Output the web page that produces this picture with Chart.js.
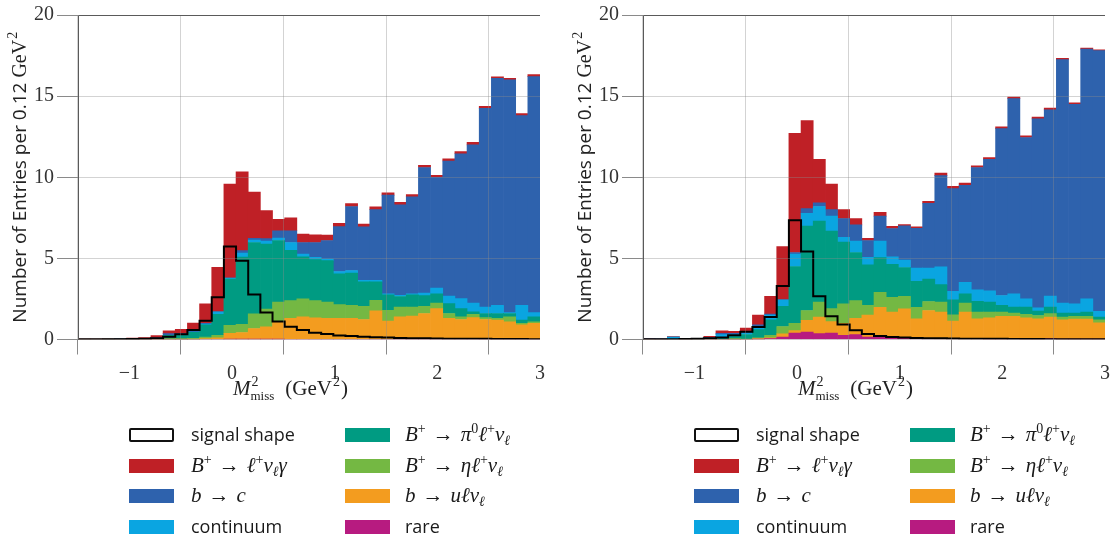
<!DOCTYPE html>
<html>
<head>
<meta charset="utf-8">
<script src="https://cdn.jsdelivr.net/npm/chart.js@4.4.0/dist/chart.umd.min.js"></script>
<style>
  html, body { margin: 0; padding: 0; background: #fff; }
  body { width: 1112px; height: 544px; position: relative; overflow: hidden; }
  canvas { position: absolute; top: 0; }
  .legend { position: absolute; top: 0; width: 556px; height: 544px; }
  .box { position: absolute; width: 45px; height: 14px; }
  .box.sig { box-sizing: border-box; border: 2px solid #111; border-radius: 2px; background: #fff; }
  .lab { position: absolute; white-space: nowrap; color: #1a1a1a; line-height: 20px; height: 20px; }
  .sans { font-family: "Open Sans", sans-serif; font-size: 18px; }
  .m { font-family: "Liberation Serif", serif; font-size: 21px; }
  .m i { font-style: italic; }
  .m .ar { margin: 0 7px; }
  .m sup, .m sub { font-size: 14px; line-height: 0; position: relative; vertical-align: baseline; }
  .m sup { top: -8px; }
  .m sub { top: 4px; }
</style>
</head>
<body>
<canvas id="cL" width="556" height="400" style="left:0px"></canvas>
<canvas id="cR" width="556" height="400" style="left:565px"></canvas>
<div id="legL" class="legend" style="left:0px"></div>
<div id="legR" class="legend" style="left:565px"></div>
<script>
// ---------------- data ----------------
const binLow = -1.5;
const binHigh = 3.0;
const nBins = 38;
const xTickValues = [-1, 0, 1, 2, 3];
const yTickValues = [0, 5, 10, 15, 20];

const componentNames = ['B+ → ℓ+νℓγ', 'b → c', 'continuum', 'B+ → π0ℓ+νℓ', 'B+ → ηℓ+νℓ', 'b → uℓνℓ', 'rare'];

// Left panel
const leftLNuGamma = [0.02,0.03,0.03,0.04,0.05,0.07,0.14,0.18,0.25,0.5,1.2,2.75,5.8,4.86,2.85,1.72,0.7,0.8,0.51,0.47,0.33,0.2,0.18,0.17,0.18,0.14,0.15,0.13,0.13,0.12,0.14,0.13,0.15,0.12,0.09,0.1,0.12,0.13];
const leftBtoC = [0,0,0,0.01,0.02,0.02,0.04,0.1,0.05,0.05,0.05,0,0,0.15,0.1,0.16,0.45,0.72,0.71,0.91,1.14,2.77,3.95,3.31,4.36,6.08,5.58,5.98,7.74,6.83,8.32,8.93,9.75,12.25,14.0,14.34,11.7,14.54];
const leftContinuum = [0,0,0,0,0,0,0,0,0.02,0.02,0.05,0.15,0.05,0.25,0.15,0.18,0.15,0.48,0.17,0.15,0.1,0.15,0.15,0.09,0.09,0.07,0.07,0.07,0.16,0.35,0.47,0.62,0.55,0.4,0.5,0.06,0.91,0.26];
const leftPi0 = [0,0,0.01,0.02,0.02,0.03,0.06,0.22,0.26,0.38,0.75,1.3,2.85,4.15,4.4,4.0,3.8,3.1,2.6,2.52,2.56,1.89,2.0,1.5,1.13,0.95,0.65,0.75,0.65,0.57,0.61,0.5,0.15,0.25,0.3,0.2,0.19,0.31];
const leftEta = [0,0,0,0,0,0,0,0.02,0.02,0.04,0.1,0.15,0.5,0.5,0.9,1.1,1.2,1.1,1.1,1.06,1.0,0.85,0.8,0.82,0.66,0.67,0.6,0.56,0.45,0.35,0.3,0.17,0.2,0.12,0.11,0.31,0.1,0.09];
const leftBtoULNu = [0,0,0,0,0,0,0,0.02,0.02,0.02,0.05,0.1,0.36,0.41,0.66,0.76,1.08,1.3,1.4,1.34,1.3,1.3,1.3,1.23,1.76,1.13,1.4,1.44,1.6,1.9,1.3,1.23,1.35,1.23,1.19,1.09,0.9,1.0];
const leftRare = [0,0,0,0,0,0,0,0,0,0,0,0,0.02,0.02,0.02,0.02,0.02,0,0,0,0,0,0,0,0,0,0,0,0,0,0,0,0,0,0,0,0,0];
const leftSignal = [0.02,0.02,0.02,0.02,0.03,0.05,0.08,0.17,0.32,0.58,1.15,2.6,5.73,4.86,2.78,1.66,1.11,0.78,0.58,0.42,0.34,0.25,0.21,0.17,0.14,0.12,0.1,0.08,0.07,0.06,0.05,0.05,0.04,0.04,0.03,0.03,0.03,0.02];

// Right panel
const rightLNuGamma = [0.02,0.02,0.03,0.02,0.03,0.08,0.15,0.12,0.2,0.6,1.1,3.29,7.34,5.43,2.68,1.58,0.55,0.4,0.14,0.24,0.14,0.09,0.1,0.12,0.15,0.14,0.14,0.1,0.11,0.1,0.09,0.1,0.11,0.11,0.08,0.08,0.06,0.06];
const rightBtoC = [0,0,0,0,0.01,0.03,0.08,0.06,0.1,0.1,0.05,0,0.1,0.3,0.22,0.4,1.16,1.0,1.04,1.53,1.75,2.11,2.45,4.0,5.62,6.33,5.98,7.54,8.1,10.29,12.04,9.95,11.65,11.48,15.01,12.3,15.4,16.07];
const rightContinuum = [0.03,0.02,0.15,0.02,0.01,0.06,0.2,0.1,0.1,0.2,0.3,0.39,0.76,0.78,0.9,0.92,0.3,0.7,0.46,1.02,0.45,0.45,0.82,0.67,1.1,0.53,0.71,0.7,0.7,0.61,0.81,0.5,0.2,0.67,0.61,0.57,0.81,0.35];
const rightPi0 = [0,0,0,0,0.01,0.03,0.1,0.18,0.28,0.5,0.95,1.25,3.5,5.2,5.0,4.78,3.8,2.96,2.5,2.14,2.04,1.78,1.59,1.39,1.08,0.92,0.57,0.67,0.61,0.41,0.37,0.45,0.27,0.41,0.25,0.2,0.26,0.16];
const rightEta = [0,0,0,0,0,0,0,0.02,0.03,0.05,0.15,0.45,0.45,0.61,0.92,0.8,1.2,1.1,0.6,0.92,0.91,0.77,0.71,0.55,0.61,0.38,0.55,0.41,0.35,0.26,0.2,0.21,0.2,0.21,0.16,0.17,0.17,0.2];
const rightBtoULNu = [0,0,0,0,0,0,0,0.02,0,0.04,0.06,0.2,0.15,0.73,1.02,0.7,0.75,1.0,1.35,1.84,1.59,1.81,1.22,1.74,1.65,1.11,1.66,1.25,1.32,1.41,1.38,1.32,1.26,1.33,1.2,1.24,1.24,1.0];
const rightRare = [0,0,0,0,0,0,0,0,0,0.02,0.05,0.15,0.4,0.45,0.36,0.4,0.25,0.3,0.15,0.15,0.1,0.08,0.06,0.05,0.04,0.03,0.03,0.03,0.02,0.02,0.05,0.02,0.02,0.05,0.02,0.02,0.02,0.02];
const rightSignal = [0.02,0.02,0.02,0.03,0.05,0.07,0.12,0.26,0.47,0.77,1.38,3.29,7.35,5.42,2.66,1.43,0.92,0.57,0.34,0.22,0.15,0.12,0.1,0.08,0.07,0.06,0.05,0.05,0.04,0.04,0.03,0.03,0.03,0.02,0.02,0.02,0.02,0.02];

// ---------------- styles ----------------
const componentColors = ['#bf2026', '#2e62ad', '#0aa5e1', '#009b82', '#74b843', '#f39c1f', '#b71b80'];
const serif = '"Liberation Serif", "DejaVu Serif", serif';
const sans = '"Open Sans", "DejaVu Sans", sans-serif';

const binWidth = (binHigh - binLow) / nBins;
const binCenters = Array.from({length: nBins}, (_, i) => binLow + (i + 0.5) * binWidth);
const binEdges = Array.from({length: nBins + 1}, (_, i) => binLow + i * binWidth);

function fmtTick(v) { return v < 0 ? '\u2212' + Math.abs(v) : String(v); }

const framePlugin = {
  id: 'frame',
  afterDraw(chart) {
    const {ctx, chartArea: a} = chart;
    ctx.save();
    ctx.strokeStyle = '#5a5a5a';
    ctx.lineWidth = 1;
    ctx.beginPath();
    ctx.moveTo(Math.floor(a.left) + 0.5, a.bottom);
    ctx.lineTo(Math.floor(a.left) + 0.5, Math.floor(a.top) + 0.5);
    ctx.lineTo(a.right, Math.floor(a.top) + 0.5);
    ctx.stroke();
    ctx.restore();
  }
};

const titlesPlugin = {
  id: 'axisTitles',
  afterDraw(chart) {
    const {ctx, chartArea: a} = chart;
    ctx.save();
    ctx.fillStyle = '#222';
    ctx.textBaseline = 'alphabetic';
    ctx.textAlign = 'left';
    // x title: M^2_miss (GeV^2)
    let x = a.left + 155;
    const by = 395;
    ctx.font = 'italic 21px ' + serif;
    ctx.fillText('M', x, by);
    x += ctx.measureText('M').width + 1;
    ctx.font = '14px ' + serif;
    ctx.fillText('2', x, by - 9);
    const w2 = ctx.measureText('2').width;
    ctx.font = '13px ' + serif;
    ctx.fillText('miss', x - 1, by + 5);
    const wm = ctx.measureText('miss').width;
    x += Math.max(w2, wm) + 10;
    ctx.font = '21px ' + serif;
    ctx.fillText('(GeV', x, by);
    x += ctx.measureText('(GeV').width + 1;
    ctx.font = '14px ' + serif;
    ctx.fillText('2', x, by - 9);
    x += ctx.measureText('2').width + 1;
    ctx.font = '21px ' + serif;
    ctx.fillText(')', x, by);

    // y title
    const p1 = 'Number of Entries per 0.12 ', p2 = 'GeV', p3 = '2';
    const f1 = '19px ' + sans, f2 = '20px ' + serif, f3 = '14px ' + serif;
    ctx.font = f1; const w1 = ctx.measureText(p1).width;
    ctx.font = f2; const wg = ctx.measureText(p2).width;
    ctx.font = f3; const ws = ctx.measureText(p3).width;
    const total = w1 + wg + ws + 1;
    ctx.translate(26, (a.top + a.bottom) / 2);
    ctx.rotate(-Math.PI / 2);
    let t = -total / 2;
    ctx.font = f1; ctx.fillText(p1, t, 0); t += w1;
    ctx.font = f2; ctx.fillText(p2, t, 0); t += wg + 1;
    ctx.font = f3; ctx.fillText(p3, t, -9);
    ctx.restore();
  }
};

function makeChart(canvasId, seriesList, signal) {
  // seriesList in legend order: lnugamma, btoc, continuum, pi0, eta, bulnu, rare
  const stackOrder = [6, 5, 4, 3, 2, 1, 0]; // bottom -> top
  const datasets = stackOrder.map(k => ({
    type: 'bar',
    label: componentNames[k],
    data: seriesList[k].map((v, i) => ({x: binCenters[i], y: v})),
    backgroundColor: componentColors[k],
    borderWidth: 0,
    barPercentage: 1,
    categoryPercentage: 1,
    grouped: false,
    xAxisID: 'x',
    yAxisID: 'y'
  }));
  const sigPts = signal.map((v, i) => ({x: binEdges[i], y: v}));
  sigPts.push({x: binEdges[nBins], y: signal[nBins - 1]});
  datasets.push({
    type: 'line',
    label: 'signal shape',
    data: sigPts,
    stepped: 'before',
    borderColor: '#000',
    borderWidth: 2,
    pointRadius: 0,
    fill: false,
    xAxisID: 'x',
    yAxisID: 'ys',
    order: -1
  });

  return new Chart(document.getElementById(canvasId), {
    type: 'bar',
    data: {datasets},
    options: {
      responsive: false,
      animation: false,
      devicePixelRatio: 1,
      layout: {padding: {top: 12, right: 16, left: 0, bottom: 0}},
      plugins: {legend: {display: false}, tooltip: {enabled: false}},
      scales: {
        x: {
          type: 'linear', min: binLow, max: binHigh, stacked: true, offset: false,
          afterBuildTicks: s => { s.ticks = xTickValues.map(v => ({value: v})); },
          afterFit: s => { s.height = 60.5; },
          grid: {color: 'rgba(140,140,140,0.38)', lineWidth: 1, tickColor: '#8a8a8a', tickLength: 15, z: 1},
          border: {display: false},
          ticks: {font: {family: serif, size: 20}, color: '#333', padding: 7, maxRotation: 0, autoSkip: false,
                  callback: v => fmtTick(v)}
        },
        y: {
          min: 0, max: 20, stacked: true,
          afterBuildTicks: s => { s.ticks = yTickValues.map(v => ({value: v})); },
          afterFit: s => { s.width = 78; },
          grid: {color: 'rgba(140,140,140,0.38)', lineWidth: 1, tickColor: '#8a8a8a', tickLength: 21, z: 1},
          border: {display: false},
          ticks: {font: {family: serif, size: 20}, color: '#333', padding: 3, callback: v => fmtTick(v)}
        },
        ys: {display: false, min: 0, max: 20}
      }
    },
    plugins: [framePlugin, titlesPlugin]
  });
}

makeChart('cL', [leftLNuGamma, leftBtoC, leftContinuum, leftPi0, leftEta, leftBtoULNu, leftRare], leftSignal);
makeChart('cR', [rightLNuGamma, rightBtoC, rightContinuum, rightPi0, rightEta, rightBtoULNu, rightRare], rightSignal);

// ---------------- legend (HTML) ----------------
const legendHTML = [
  {html: 'signal shape', cls: 'sans', sig: true},
  {html: '<i>B</i><sup>+</sup><span class="ar">→</span><i>ℓ</i><sup>+</sup><i>ν</i><sub><i>ℓ</i></sub><i>γ</i>', cls: 'm', color: 0},
  {html: '<i>b</i><span class="ar">→</span><i>c</i>', cls: 'm', color: 1},
  {html: 'continuum', cls: 'sans', color: 2},
  {html: '<i>B</i><sup>+</sup><span class="ar">→</span><i>π</i><sup>0</sup><i>ℓ</i><sup>+</sup><i>ν</i><sub><i>ℓ</i></sub>', cls: 'm', color: 3},
  {html: '<i>B</i><sup>+</sup><span class="ar">→</span><i>η</i><i>ℓ</i><sup>+</sup><i>ν</i><sub><i>ℓ</i></sub>', cls: 'm', color: 4},
  {html: '<i>b</i><span class="ar">→</span><i>u</i><i>ℓ</i><i>ν</i><sub><i>ℓ</i></sub>', cls: 'm', color: 5},
  {html: 'rare', cls: 'sans', color: 6}
];
const rowY = [435, 466, 496, 527];
const colBoxX = [129, 345];
const colTextX = [191, 405];

function buildLegend(id) {
  const root = document.getElementById(id);
  legendHTML.forEach((item, idx) => {
    const col = Math.floor(idx / 4), row = idx % 4;
    const box = document.createElement('div');
    box.className = 'box' + (item.sig ? ' sig' : '');
    if (!item.sig) box.style.background = componentColors[item.color];
    box.style.left = colBoxX[col] + 'px';
    box.style.top = (rowY[row] - 7) + 'px';
    root.appendChild(box);
    const lab = document.createElement('div');
    lab.className = 'lab ' + item.cls;
    lab.innerHTML = item.html;
    lab.style.left = colTextX[col] + 'px';
    lab.style.top = (rowY[row] - 11) + 'px';
    root.appendChild(lab);
  });
}
buildLegend('legL');
buildLegend('legR');
</script>
</body>
</html>
